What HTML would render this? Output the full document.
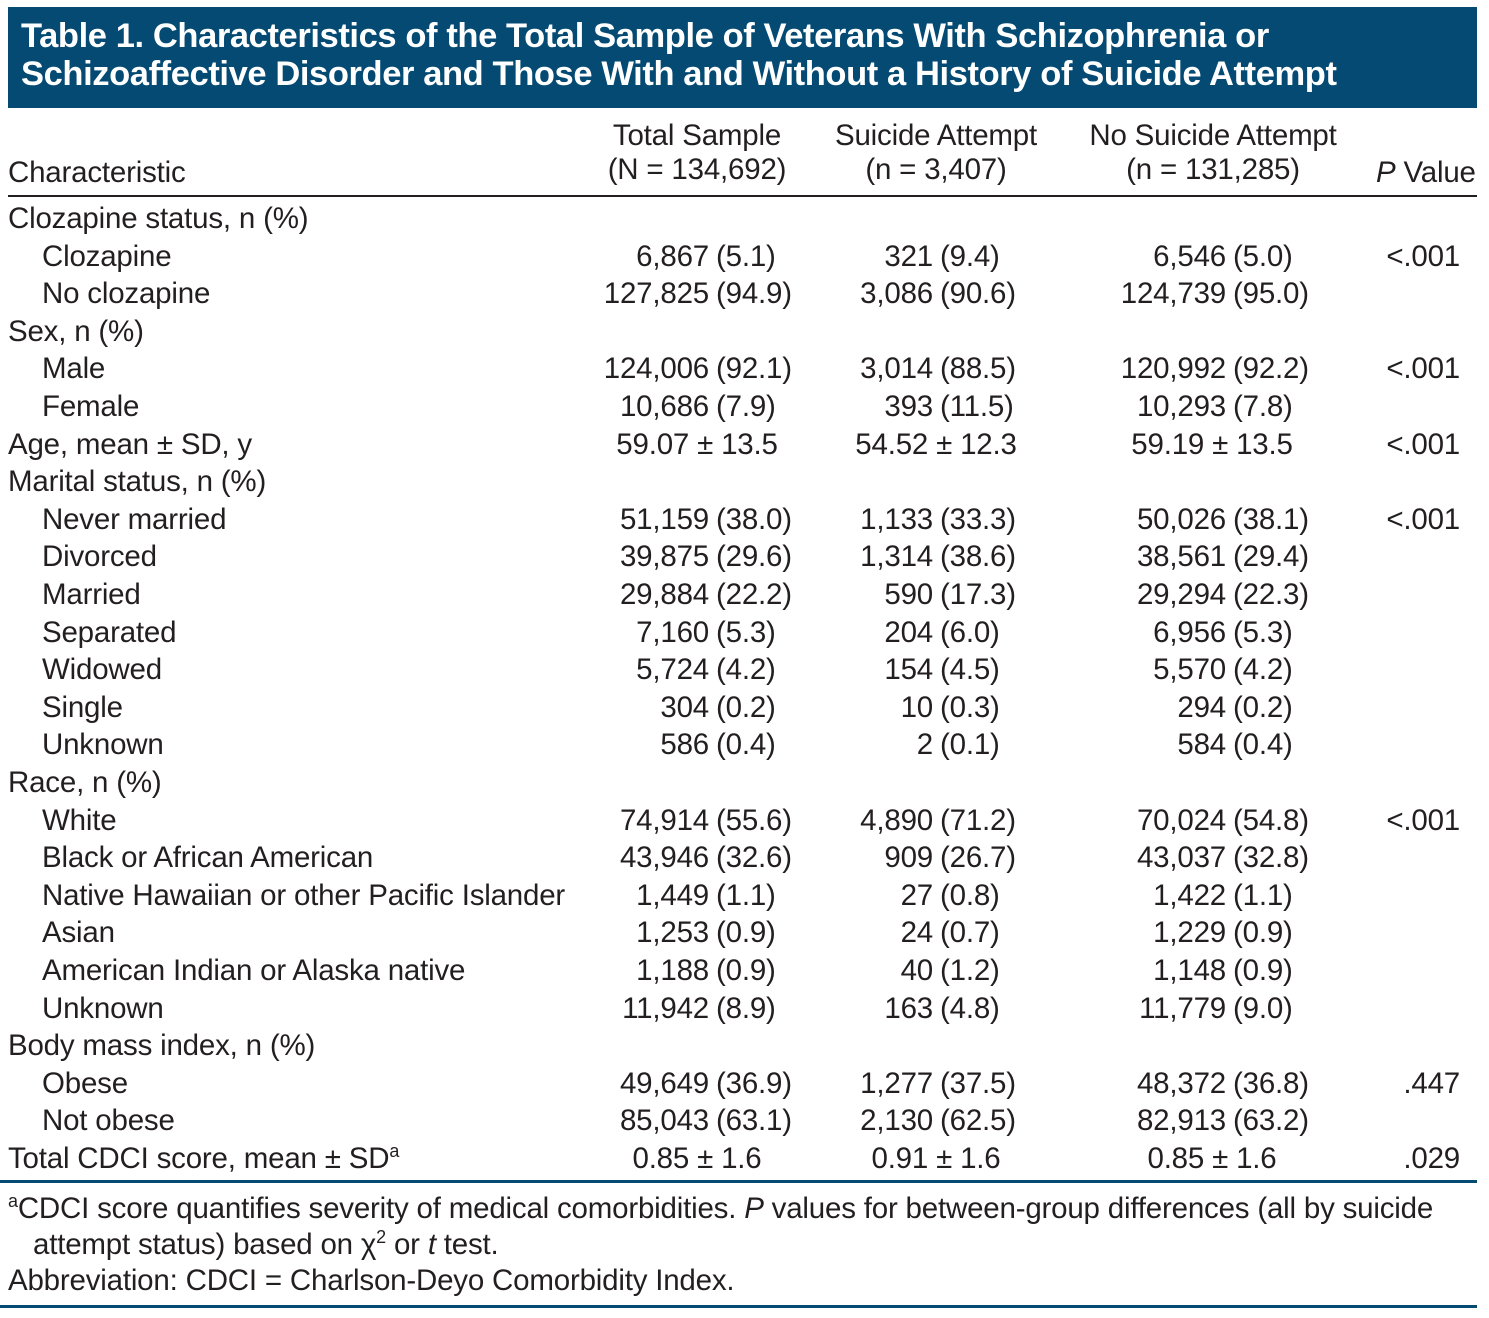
<!DOCTYPE html>
<html><head><meta charset="utf-8">
<style>
body{margin:0;width:1489px;height:1318px;background:#fff;position:relative;overflow:hidden;font-family:"Liberation Sans",sans-serif;color:#231f20}
.t{position:absolute;white-space:nowrap;font-size:29.5px;line-height:30px;letter-spacing:-0.2px}
#title{position:absolute;left:8px;top:7px;width:1469px;height:101px;background:#044a72}
#title div{position:absolute;left:13px;color:#fff;font-weight:bold;font-size:34.5px;letter-spacing:-0.4px;white-space:nowrap}
.r{text-align:right}.c{text-align:center}
</style></head><body>
<div id="title">
<div style="top:10px">Table 1. Characteristics of the Total Sample of Veterans With Schizophrenia or</div>
<div style="top:48px">Schizoaffective Disorder and Those With and Without a History of Suicide Attempt</div>
</div>
<div class="t" style="left:8px;top:158px">Characteristic</div>
<div class="t c" style="left:577px;width:240px;top:121px">Total Sample<br><span style="line-height:37px">(N = 134,692)</span></div>
<div class="t c" style="left:816px;width:240px;top:121px">Suicide Attempt<br><span style="line-height:37px">(n = 3,407)</span></div>
<div class="t c" style="left:1073px;width:280px;top:121px">No Suicide Attempt<br><span style="line-height:37px">(n = 131,285)</span></div>
<div class="t" style="left:1376px;top:158px"><i>P</i> Value</div>
<div style="position:absolute;left:8px;top:195px;width:1469px;height:2px;background:#231f20"></div>
<div style="position:absolute;left:0;top:1180px;width:1477px;height:3px;background:#044a72"></div>
<div style="position:absolute;left:0;top:1305px;width:1477px;height:3px;background:#044a72"></div>
<div class="t" style="left:8px;top:1194px"><sup style="font-size:18px;line-height:0">a</sup>CDCI score quantifies severity of medical comorbidities. <i>P</i> values for between-group differences (all by suicide</div>
<div class="t" style="left:33px;top:1230px">attempt status) based on χ<sup style="font-size:18px;line-height:0">2</sup> or <i>t</i> test.</div>
<div class="t" style="left:8px;top:1266px">Abbreviation: CDCI = Charlson-Deyo Comorbidity Index.</div>
<script>
const labels=["Clozapine status, n (%)","Clozapine","No clozapine","Sex, n (%)","Male","Female","Age, mean ± SD, y","Marital status, n (%)","Never married","Divorced","Married","Separated","Widowed","Single","Unknown","Race, n (%)","White","Black or African American","Native Hawaiian or other Pacific Islander","Asian","American Indian or Alaska native","Unknown","Body mass index, n (%)","Obese","Not obese","Total CDCI score, mean ± SD"];
const indent=[0,1,1,0,1,1,0,0,1,1,1,1,1,1,1,0,1,1,1,1,1,1,0,1,1,0];
const totalCol=["","6,867 (5.1)","127,825 (94.9)","","124,006 (92.1)","10,686 (7.9)","59.07 ± 13.5","","51,159 (38.0)","39,875 (29.6)","29,884 (22.2)","7,160 (5.3)","5,724 (4.2)","304 (0.2)","586 (0.4)","","74,914 (55.6)","43,946 (32.6)","1,449 (1.1)","1,253 (0.9)","1,188 (0.9)","11,942 (8.9)","","49,649 (36.9)","85,043 (63.1)","0.85 ± 1.6"];
const attemptCol=["","321 (9.4)","3,086 (90.6)","","3,014 (88.5)","393 (11.5)","54.52 ± 12.3","","1,133 (33.3)","1,314 (38.6)","590 (17.3)","204 (6.0)","154 (4.5)","10 (0.3)","2 (0.1)","","4,890 (71.2)","909 (26.7)","27 (0.8)","24 (0.7)","40 (1.2)","163 (4.8)","","1,277 (37.5)","2,130 (62.5)","0.91 ± 1.6"];
const noAttemptCol=["","6,546 (5.0)","124,739 (95.0)","","120,992 (92.2)","10,293 (7.8)","59.19 ± 13.5","","50,026 (38.1)","38,561 (29.4)","29,294 (22.3)","6,956 (5.3)","5,570 (4.2)","294 (0.2)","584 (0.4)","","70,024 (54.8)","43,037 (32.8)","1,422 (1.1)","1,229 (0.9)","1,148 (0.9)","11,779 (9.0)","","48,372 (36.8)","82,913 (63.2)","0.85 ± 1.6"];
const pCol=["","<.001","","","<.001","","<.001","","<.001","","","","","","","","<.001","","","","","","",".447","",".029"];
const parenX=[716,940,1233];
const meanCenter=[697,936,1212];
function mk(txt,left,top,cls,name){
  const d=document.createElement('div');
  d.className='t '+cls;
  d.textContent=txt;
  d.style.left=left+'px';d.style.top=top+'px';
  
  
  document.body.appendChild(d);return d;
}
function cell(v,col,top,name){
  if(!v)return;
  const i=v.indexOf(' (');
  if(i<0){const d=mk(v,meanCenter[col]-170,top,'c',name);d.style.width='340px';return;}
  const a=mk(v.slice(0,i),parenX[col]-207,top,'r',name);a.style.width='200px';
  mk(v.slice(i+1),parenX[col],top,'',name+'-pct');
}
labels.forEach((l,k)=>{
  const top=204+k*37.6;
  const lab=mk(l,indent[k]?42:8,top,'',`row-label-${k}`);
  if(k===25){const s=document.createElement('sup');s.textContent='a';s.style.fontSize='18px';s.style.lineHeight='0';lab.appendChild(s);}
  cell(totalCol[k],0,top,`total-value-${k}`);
  cell(attemptCol[k],1,top,`attempt-value-${k}`);
  cell(noAttemptCol[k],2,top,`no-attempt-value-${k}`);
  if(pCol[k]){const p=mk(pCol[k],1260,top,'r',`p-value-${k}`);p.style.width='200px';}
});
</script>
</body></html>
